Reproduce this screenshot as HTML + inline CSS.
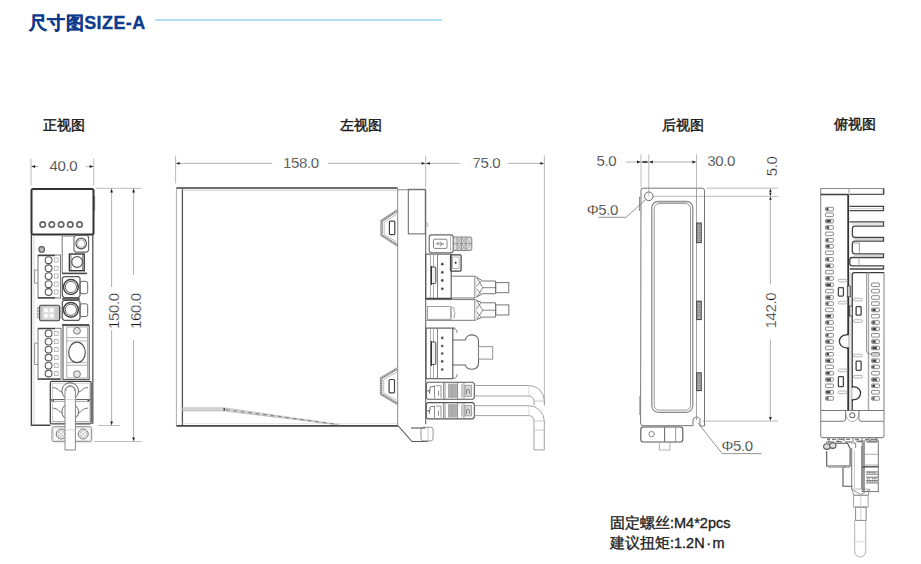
<!DOCTYPE html>
<html><head><meta charset="utf-8">
<style>
html,body{margin:0;padding:0;background:#fff;width:921px;height:564px;overflow:hidden}
svg{position:absolute;left:0;top:0}
text{font-family:"Liberation Sans",sans-serif}
.t{font-size:13.5px;fill:#1a1a1a;stroke:#1a1a1a;stroke-width:0.45}
.n{font-size:15px;fill:#1a1a1a;letter-spacing:-0.35px;stroke:#fff;stroke-width:0.3px}
.dl{stroke:#a8a8a8;stroke-width:0.9;fill:none}
.ex{stroke:#b4b4b4;stroke-width:0.9;fill:none}
.ah{fill:#222;stroke:none}
.o{stroke:#3a3a3a;stroke-width:1.6;fill:none}
.m{stroke:#5a5a5a;stroke-width:1.1;fill:none}
.l{stroke:#8a8a8a;stroke-width:0.9;fill:none}
.ll{stroke:#b0b0b0;stroke-width:0.9;fill:none}
</style></head><body>
<svg width="921" height="564" viewBox="0 0 921 564">
<!-- title -->
<text x="29" y="29" style="font-size:18px;font-weight:bold;fill:#0c3a8c;letter-spacing:0.4px;stroke:#0c3a8c;stroke-width:0.3">尺寸图SIZE-A</text>
<line x1="155" y1="20" x2="442" y2="20" stroke="#b4def4" stroke-width="2"/>

<!-- view labels -->
<text class="t" x="43" y="129.5">正视图</text>
<text class="t" x="340" y="129.7">左视图</text>
<text class="t" x="662" y="130.3">后视图</text>
<text class="t" x="833.5" y="129.3">俯视图</text>

<!-- notes -->
<text x="610" y="527.5" style="font-size:14.5px;fill:#222;stroke:#222;stroke-width:0.35">固定螺丝:M4*2pcs</text>
<text x="610" y="548" style="font-size:14.5px;fill:#222;stroke:#222;stroke-width:0.35">建议扭矩:1.2N<tspan dx="1.5">·</tspan><tspan dx="1.5">m</tspan></text>

<!-- ================= FRONT VIEW ================= -->
<g id="front">
<!-- dims 40.0 -->
<line class="ex" x1="31" y1="158.5" x2="31" y2="185.5"/>
<line class="ex" x1="93.8" y1="158.5" x2="93.8" y2="185.5"/>
<line class="dl" x1="31" y1="166.5" x2="38.5" y2="166.5"/>
<line class="dl" x1="86" y1="166.5" x2="93.8" y2="166.5"/>
<path class="ah" d="M31.5 166.5 l3.6 -1.4 v2.8z"/>
<path class="ah" d="M93.3 166.5 l-3.6 -1.4 v2.8z"/>
<text class="n" x="49.5" y="171">40.0</text>
<!-- 150 / 160 -->
<line class="ex" x1="96" y1="188.3" x2="141.6" y2="188.3"/>
<line class="ex" x1="98" y1="425.5" x2="119.8" y2="425.5"/>
<line class="ex" x1="94.3" y1="441.5" x2="141.6" y2="441.5"/>
<line class="dl" x1="111.6" y1="188.3" x2="111.6" y2="287"/>
<line class="dl" x1="111.6" y1="330" x2="111.6" y2="425.5"/>
<line class="dl" x1="133.6" y1="188.3" x2="133.6" y2="275"/>
<line class="dl" x1="133.6" y1="340" x2="133.6" y2="441.5"/>
<path class="ah" d="M111.6 188.8 l-1.4 3.6 h2.8z"/>
<path class="ah" d="M133.6 188.8 l-1.4 3.6 h2.8z"/>
<path class="ah" d="M111.6 425 l-1.4 -3.6 h2.8z"/>
<path class="ah" d="M133.6 441 l-1.4 -3.6 h2.8z"/>
<text class="n" transform="translate(119,329) rotate(-90)">150.0</text>
<text class="n" transform="translate(141,329) rotate(-90)">160.0</text>

<!-- upper box -->
<rect x="31.5" y="189" width="62" height="45.5" rx="1.5" fill="none" stroke="#333" stroke-width="2"/>
<line x1="94.6" y1="196" x2="94.6" y2="211" stroke="#666" stroke-width="1"/>
<g fill="none" stroke="#666" stroke-width="1.7">
<circle cx="42.7" cy="224.5" r="2.7"/><circle cx="51.8" cy="224.5" r="2.7"/><circle cx="61.1" cy="224.5" r="2.7"/><circle cx="70.3" cy="224.5" r="2.7"/><circle cx="79.5" cy="224.5" r="2.7"/>
</g>
<!-- lower body outline -->
<path d="M31.4 234.5 V425.3 H50.5" fill="none" stroke="#444" stroke-width="1.4"/>
<line x1="92.8" y1="234.5" x2="92.8" y2="424" stroke="#555" stroke-width="1.3"/>
<line x1="34" y1="236" x2="34" y2="424" stroke="#ccc" stroke-width="0.7"/>
<!-- small circle -->
<circle cx="41.7" cy="249.4" r="2.8" fill="#bbb" stroke="#555" stroke-width="1.1"/>
<!-- 5-pin connector -->
<rect x="38" y="255" width="22.5" height="43" fill="none" stroke="#777" stroke-width="1"/>
<line x1="38" y1="255.5" x2="55" y2="255.5" stroke="#444" stroke-width="1.4"/>
<line x1="38" y1="297.8" x2="55" y2="297.8" stroke="#444" stroke-width="1.4"/>
<path d="M37.8 270 h-3.2 v13.2 h3.2" fill="none" stroke="#888" stroke-width="0.9"/>
<g fill="none" stroke="#555" stroke-width="1.1">
<circle cx="48.6" cy="260.2" r="3.4"/><circle cx="48.6" cy="268.3" r="3.4"/><circle cx="48.6" cy="276.1" r="3.4"/><circle cx="48.6" cy="284.2" r="3.4"/><circle cx="48.6" cy="292" r="3.4"/>
</g>
<g fill="none" stroke="#aaa" stroke-width="0.8">
<rect x="54.3" y="258" width="3.8" height="4"/><rect x="54.3" y="266.2" width="3.8" height="4"/><rect x="54.3" y="274" width="3.8" height="4"/><rect x="54.3" y="282.1" width="3.8" height="4"/><rect x="54.3" y="290" width="3.8" height="4"/>
</g>
<!-- right upper connectors -->
<line x1="62.2" y1="236" x2="62.2" y2="273" stroke="#777" stroke-width="1"/>
<line x1="62.2" y1="236.3" x2="74" y2="236.3" stroke="#999" stroke-width="0.8"/>
<path d="M75.5 235.4 H87 L88.6 237 V250.5 L87 252.1 H75.5 L74 250.5 V237Z" fill="none" stroke="#666" stroke-width="1.1"/>
<circle cx="81.2" cy="243.5" r="5.3" fill="none" stroke="#555" stroke-width="1.2"/>
<circle cx="81.2" cy="243.5" r="3.8" fill="none" stroke="#999" stroke-width="0.8"/>
<rect x="69.4" y="254" width="14.8" height="16.7" fill="none" stroke="#333" stroke-width="1.4"/>
<line x1="71" y1="255" x2="71" y2="270" stroke="#888" stroke-width="1"/>
<line x1="82.6" y1="255" x2="82.6" y2="270" stroke="#888" stroke-width="1"/>
<circle cx="77.1" cy="262" r="5.4" fill="none" stroke="#555" stroke-width="1.2"/>
<line x1="62" y1="273.4" x2="87" y2="273.4" stroke="#444" stroke-width="1.6"/>
<!-- big round connectors -->
<path d="M64 276.6 H78.5 L80 278.2 V295.5 L78.5 297.6 H64 L62.3 295.5 V278.2Z" fill="none" stroke="#555" stroke-width="1.2"/>
<circle cx="70.9" cy="287" r="7.4" fill="none" stroke="#444" stroke-width="1.5"/>
<circle cx="70.9" cy="287" r="5.6" fill="none" stroke="#666" stroke-width="1"/>
<rect x="80" y="281.3" width="7.7" height="12.4" rx="2" fill="none" stroke="#666" stroke-width="1"/>
<line x1="62" y1="299" x2="80" y2="299" stroke="#333" stroke-width="1.4"/>
<path d="M64 300.3 H78.5 L80 302 V318.5 L78.5 320.3 H64 L62.3 318.5 V302Z" fill="none" stroke="#555" stroke-width="1.2"/>
<circle cx="70.9" cy="309.8" r="7.4" fill="none" stroke="#444" stroke-width="1.5"/>
<circle cx="70.9" cy="309.8" r="5.6" fill="none" stroke="#666" stroke-width="1"/>
<rect x="80" y="303.8" width="7.7" height="12.8" rx="2" fill="none" stroke="#666" stroke-width="1"/>
<!-- small 4-square connector -->
<rect x="36.8" y="307" width="24.6" height="11.2" fill="#aaa"/>
<g fill="#ddd"><rect x="37.3" y="308.6" width="1.8" height="1.6"/><rect x="37.3" y="311.8" width="1.8" height="1.6"/><rect x="37.3" y="315" width="1.8" height="1.6"/><rect x="59.2" y="308.6" width="1.8" height="1.6"/><rect x="59.2" y="311.8" width="1.8" height="1.6"/><rect x="59.2" y="315" width="1.8" height="1.6"/></g>
<rect x="39.6" y="305.3" width="20" height="15.5" rx="1.5" fill="#c8c8c8" stroke="#444" stroke-width="1.1"/>
<rect x="42.8" y="307.2" width="12" height="11.8" fill="#dedede"/>
<g fill="#fff"><rect x="44.3" y="308.4" width="3.5" height="3.6"/><rect x="50.1" y="308.4" width="3.2" height="3.6"/><rect x="44.3" y="314.2" width="3.5" height="3.2"/><rect x="50.1" y="314.2" width="3.2" height="3.2"/></g>
<g fill="#ccc"><rect x="41" y="308.6" width="1.5" height="1.6"/><rect x="41" y="315" width="1.5" height="1.6"/><rect x="56" y="308.6" width="1.5" height="1.6"/><rect x="56" y="315" width="1.5" height="1.6"/></g>
<line x1="62" y1="324.9" x2="89" y2="324.9" stroke="#444" stroke-width="1.6"/>
<!-- 6-pin connector -->
<rect x="38" y="328.3" width="23" height="51" fill="none" stroke="#777" stroke-width="1"/>
<line x1="38" y1="328.6" x2="55" y2="328.6" stroke="#444" stroke-width="1.4"/>
<line x1="38" y1="379" x2="60" y2="379" stroke="#444" stroke-width="1.4"/>
<path d="M37.8 343.2 h-3.2 v21.3 h3.2" fill="none" stroke="#888" stroke-width="0.9"/>
<g fill="none" stroke="#555" stroke-width="1.1">
<circle cx="48.6" cy="333.4" r="3.4"/><circle cx="48.6" cy="341.6" r="3.4"/><circle cx="48.6" cy="349.6" r="3.4"/><circle cx="48.6" cy="357.5" r="3.4"/><circle cx="48.6" cy="365.6" r="3.4"/><circle cx="48.6" cy="373.5" r="3.4"/>
</g>
<g fill="none" stroke="#aaa" stroke-width="0.8">
<rect x="54.3" y="331.4" width="3.8" height="4"/><rect x="54.3" y="339.6" width="3.8" height="4"/><rect x="54.3" y="347.6" width="3.8" height="4"/><rect x="54.3" y="355.5" width="3.8" height="4"/><rect x="54.3" y="363.6" width="3.8" height="4"/><rect x="54.3" y="371.5" width="3.8" height="4"/>
</g>
<!-- right block with ellipse -->
<rect x="63" y="325.5" width="26.2" height="54" fill="none" stroke="#555" stroke-width="1.1"/>
<rect x="66.8" y="327" width="20.6" height="51" fill="none" stroke="#999" stroke-width="0.8"/>
<line x1="66.8" y1="337.6" x2="87.4" y2="337.6" stroke="#999" stroke-width="0.8"/><line x1="66" y1="341" x2="88" y2="341" stroke="#aaa" stroke-width="0.8"/>
<line x1="66.8" y1="365.2" x2="87.4" y2="365.2" stroke="#999" stroke-width="0.8"/><line x1="66" y1="362.5" x2="88" y2="362.5" stroke="#aaa" stroke-width="0.8"/>
<ellipse cx="77" cy="352.4" rx="8.3" ry="10.2" fill="none" stroke="#555" stroke-width="1.2"/>
<circle cx="77" cy="330.8" r="3.4" fill="#e6e6e6" stroke="#777" stroke-width="1"/>
<circle cx="77" cy="374.2" r="3.4" fill="#e6e6e6" stroke="#777" stroke-width="1"/>
<!-- bottom connector block -->
<rect x="50.3" y="381.4" width="40.8" height="42.5" rx="1.5" fill="none" stroke="#444" stroke-width="1.3"/>
<line x1="51.5" y1="421.5" x2="90" y2="421.5" stroke="#999" stroke-width="0.8"/>
<line x1="50.3" y1="399.6" x2="91" y2="399.6" stroke="#555" stroke-width="1"/>
<line x1="50.3" y1="401.6" x2="91" y2="401.6" stroke="#999" stroke-width="0.8"/>
<rect x="51.5" y="399.8" width="2.5" height="1.6" fill="#444"/><rect x="87.5" y="399.8" width="2.5" height="1.6" fill="#444"/>
<path d="M52.5 387.5 q4 0 6 2.5 q1.5 2 3.5 2 M78.5 392 q2 0 3.5 -2 q2 -2.5 6 -2.5 M52.5 408 q4 0 6 2.5 q1.5 2 3.5 2 M78.5 412.5 q2 0 3.5 -2 q2 -2.5 6 -2.5" fill="none" stroke="#666" stroke-width="0.9"/>
<rect x="52.5" y="383.2" width="36.8" height="38.8" fill="none" stroke="#bbb" stroke-width="0.7"/>
<circle cx="70.2" cy="391" r="8.3" fill="none" stroke="#666" stroke-width="1"/>
<circle cx="70.2" cy="411.8" r="8.3" fill="none" stroke="#666" stroke-width="1"/>
<!-- bottom mount -->
<rect x="52" y="426.7" width="39.7" height="15" rx="2" fill="none" stroke="#888" stroke-width="1"/>
<rect x="53.5" y="428" width="36.7" height="12.4" rx="1.5" fill="none" stroke="#ccc" stroke-width="0.7"/>
<circle cx="61.2" cy="434" r="5" fill="none" stroke="#777" stroke-width="1"/>
<circle cx="61.2" cy="434" r="3.4" fill="none" stroke="#aaa" stroke-width="0.8"/>
<circle cx="83.2" cy="434" r="5" fill="none" stroke="#777" stroke-width="1"/>
<circle cx="83.2" cy="434" r="3.4" fill="none" stroke="#aaa" stroke-width="0.8"/>
<path d="M81 432 l4.4 4.4 M85.4 432 l-4.4 4.4 M59 432 l4.4 4.4 M63.4 432 l-4.4 4.4" stroke="#aaa" stroke-width="0.7"/>
<!-- cable -->
<path d="M65 450 V391 a5.2 5.2 0 0 1 10.4 0 V450 Z" fill="#fff" stroke="#888" stroke-width="1"/>
<path d="M65.5 391 a4.7 4.7 0 0 1 9.4 0" fill="none" stroke="#999" stroke-width="1.5"/>
<line x1="65" y1="399.5" x2="75.4" y2="399.5" stroke="#ccc" stroke-width="0.7"/>
<line x1="65" y1="430" x2="75.4" y2="430" stroke="#ccc" stroke-width="0.7"/>
</g>

<!-- ================= LEFT VIEW ================= -->
<g id="left">
<!-- dims -->
<line class="ex" x1="175.6" y1="155.6" x2="175.6" y2="183.3"/>
<line class="ex" x1="425.7" y1="155.6" x2="425.7" y2="187.6"/>
<line class="ex" x1="544.4" y1="155.4" x2="544.4" y2="405"/>
<line class="dl" x1="175.6" y1="163.4" x2="272" y2="163.4"/>
<line class="dl" x1="328" y1="163.4" x2="459.7" y2="163.4"/>
<line class="dl" x1="508.1" y1="163.4" x2="544.4" y2="163.4"/>
<path class="ah" d="M176.1 163.4 l3.6 -1.4 v2.8z"/>
<path class="ah" d="M425.2 163.4 l-3.6 -1.4 v2.8z"/>
<path class="ah" d="M426.2 163.4 l3.6 -1.4 v2.8z"/>
<path class="ah" d="M543.9 163.4 l-3.6 -1.4 v2.8z"/>
<text class="n" x="283" y="168">158.0</text>
<text class="n" x="472.5" y="168">75.0</text>

<!-- main body -->
<line x1="176.4" y1="188.3" x2="176.4" y2="425.6" stroke="#aaa" stroke-width="1"/>
<line x1="182.4" y1="189" x2="182.4" y2="425.6" stroke="#505050" stroke-width="1.3"/>
<line x1="176.4" y1="188" x2="397.7" y2="188" stroke="#707070" stroke-width="2"/>
<line x1="182.4" y1="190.2" x2="397.7" y2="190.2" stroke="#c8c8c8" stroke-width="1"/>
<line x1="176.4" y1="425.8" x2="398.3" y2="425.8" stroke="#444" stroke-width="1.8"/>
<line x1="182.4" y1="423.6" x2="398.3" y2="423.6" stroke="#ddd" stroke-width="0.8"/>
<!-- bottom band -->
<path d="M182.6 407.7 H224.2 L339 424.4 V425 L224.2 411 H182.6z" fill="#d4d4d4" stroke="#aaa" stroke-width="0.5"/>
<line x1="224.2" y1="408" x2="224.2" y2="411" stroke="#333" stroke-width="1.2"/>
<line x1="226" y1="409.6" x2="335" y2="424" stroke="#8a8a8a" stroke-width="1.3" stroke-dasharray="3.5 4"/>
<!-- right section -->
<line x1="397.7" y1="188" x2="397.7" y2="426" stroke="#888" stroke-width="1"/>
<line x1="397.7" y1="189.7" x2="425.7" y2="189.7" stroke="#aaa" stroke-width="1.4"/>
<rect x="408.3" y="189.3" width="17" height="44.6" fill="none" stroke="#666" stroke-width="1"/>
<line x1="425.7" y1="189.5" x2="425.7" y2="424.2" stroke="#666" stroke-width="1.1"/>
<path d="M425.7 222.6 a2.1 2.1 0 0 1 0 4.2" fill="none" stroke="#999" stroke-width="0.8"/>
<!-- clips -->
<path d="M397.7 210.2 L381.6 221 V235.2 L397.7 245.6" fill="none" stroke="#8c8c8c" stroke-width="2.4"/>
<path d="M397.7 210.2 L381.6 221 V235.2 L397.7 245.6" fill="none" stroke="#f4f4f4" stroke-width="0.8" stroke-dasharray="1 1.3"/>
<path d="M397.7 213.5 L384.2 222.2 V234.2 L397.7 242.5" fill="none" stroke="#b0b0b0" stroke-width="0.8"/>
<rect x="389.4" y="221.1" width="5.4" height="13.5" rx="1" fill="none" stroke="#444" stroke-width="1.2"/>
<path d="M397.9 368.3 L381.1 378.3 V394 L397.9 404" fill="none" stroke="#8c8c8c" stroke-width="2.4"/>
<path d="M397.9 368.3 L381.1 378.3 V394 L397.9 404" fill="none" stroke="#f4f4f4" stroke-width="0.8" stroke-dasharray="1 1.3"/>
<path d="M397.9 371.5 L383.7 379.5 V393 L397.9 401" fill="none" stroke="#b0b0b0" stroke-width="0.8"/>
<rect x="389.1" y="379.5" width="5.4" height="13.3" rx="1" fill="none" stroke="#444" stroke-width="1.2"/>
<!-- foot -->
<path d="M398.3 426 L412 441.5 H428.1" fill="none" stroke="#555" stroke-width="1.1"/>
<rect x="421" y="427.2" width="12.1" height="13.7" rx="2.5" fill="none" stroke="#888" stroke-width="0.9"/>
<line x1="411" y1="428" x2="425.5" y2="428" stroke="#666" stroke-width="1.2"/>
<line x1="428.1" y1="427.5" x2="428.1" y2="440.9" stroke="#bbb" stroke-width="0.8"/>

<!-- USB plug -->
<rect x="429.2" y="234.9" width="24.1" height="17.8" rx="2.5" fill="none" stroke="#666" stroke-width="1.1"/><line x1="450.5" y1="236" x2="450.5" y2="251.5" stroke="#aaa" stroke-width="0.8"/>
<rect x="433.5" y="239.2" width="13.5" height="9.2" rx="1" fill="none" stroke="#777" stroke-width="0.9"/>
<path d="M436 244 h8 M440 241.5 l2 2.5 l-2 2.5 M437 244 l1.5 -2" fill="none" stroke="#666" stroke-width="0.8"/>
<path d="M453.3 237 H470 Q471.8 237 471.8 239 V248.5 Q471.8 250.5 470 250.5 H453.3Z" fill="#dedede" stroke="#777" stroke-width="0.9"/>
<path d="M457 237 v13.5 M461.5 237 v13.5 M466 237 v13.5 M453.3 243.7 h18.5" fill="none" stroke="#888" stroke-width="0.8"/>
<path d="M457 237 l4.5 6.7 l-4.5 6.8 M461.5 237 l-4.5 6.7 l4.5 6.8 M461.5 237 l4.5 6.7 l-4.5 6.8 M466 237 l-4.5 6.7 l4.5 6.8 M466 237 l4.5 6.7 l-4.5 6.8" fill="none" stroke="#999" stroke-width="0.7"/>
<!-- upper 4-dot connector -->
<rect x="425.7" y="254.1" width="25.5" height="44.7" fill="none" stroke="#555" stroke-width="1.1"/>
<line x1="430.5" y1="254.1" x2="430.5" y2="298.8" stroke="#999" stroke-width="0.8"/>
<line x1="433.5" y1="254.1" x2="433.5" y2="298.8" stroke="#999" stroke-width="0.8"/>
<line x1="437.5" y1="254.1" x2="437.5" y2="298.8" stroke="#777" stroke-width="0.9"/>
<rect x="431.2" y="267" width="4.6" height="16.5" rx="1" fill="#f2f2f2" stroke="#444" stroke-width="1"/><line x1="431.4" y1="266" x2="431.4" y2="285" stroke="#333" stroke-width="1.2"/>
<g fill="#555"><circle cx="442.3" cy="264.2" r="1.4"/><circle cx="442.3" cy="272.4" r="1.4"/><circle cx="442.3" cy="280.5" r="1.4"/><circle cx="442.3" cy="288.8" r="1.4"/></g>
<rect x="450.5" y="254.8" width="10.6" height="16.3" rx="1" fill="none" stroke="#444" stroke-width="1.2"/>
<rect x="452.5" y="257" width="6.6" height="11.5" fill="none" stroke="#999" stroke-width="0.7"/>
<circle cx="455.7" cy="262.7" r="1" fill="#222"/>
<!-- glands -->
<g fill="none" stroke="#777" stroke-width="1">
<path d="M451.4 276.2 H474.8 L482.8 281 H495.5 V293.7 H482.8 L474.8 298 H451.4"/>
<path d="M426.2 299.6 H474.8 L482.8 302.8 H495.5 V317.1 H482.8 L474.8 320.3 H426.2"/>
<rect x="495.8" y="282.6" width="13" height="10.1"/>
<rect x="495.8" y="304.9" width="13" height="10.1"/>
</g>
<g fill="none" stroke="#666" stroke-width="0.8">
<path d="M474.8 276.2 V298 M476.5 277 L482.8 287.7 L476.5 297.5 M481 281 L475.5 287.7 L481 293.7 M482.8 287.7 H495.5"/>
<path d="M474.8 299.6 V320.3 M476.5 300.5 L482.8 310.2 L476.5 319.5 M481 302.8 L475.5 310.2 L481 317.1 M482.8 310.2 H495.5"/>
</g>
<rect x="475" y="277" width="1.6" height="20.5" fill="#ddd"/>
<rect x="475" y="300.5" width="1.6" height="19.5" fill="#ddd"/>
<line x1="426" y1="298.5" x2="451.4" y2="298.5" stroke="#444" stroke-width="1.5"/>
<rect x="427.5" y="306.5" width="23.4" height="12.8" fill="none" stroke="#999" stroke-width="0.9"/>
<path d="M451 318.2 V309 a1.6 1.6 0 0 1 3.2 0 v3 a1.6 1.6 0 0 1 0 3 v3.2" fill="none" stroke="#888" stroke-width="0.8"/>
<!-- lower 5-dot connector -->
<rect x="426" y="328.1" width="26.8" height="50.6" fill="none" stroke="#555" stroke-width="1.1"/>
<line x1="430.5" y1="328.1" x2="430.5" y2="378.7" stroke="#999" stroke-width="0.8"/>
<line x1="433.5" y1="328.1" x2="433.5" y2="378.7" stroke="#999" stroke-width="0.8"/>
<line x1="437.5" y1="328.1" x2="437.5" y2="378.7" stroke="#777" stroke-width="0.9"/>
<rect x="431.2" y="342" width="4.6" height="22.5" rx="1" fill="#f2f2f2" stroke="#444" stroke-width="1"/><line x1="431.4" y1="341" x2="431.4" y2="366" stroke="#333" stroke-width="1.2"/>
<line x1="452.8" y1="328.1" x2="455" y2="328.1" stroke="#555" stroke-width="1"/>
<g fill="#555"><circle cx="442.2" cy="337.9" r="1.3"/><circle cx="442.2" cy="346" r="1.3"/><circle cx="442.2" cy="353.5" r="1.3"/><circle cx="442.2" cy="361.4" r="1.3"/><circle cx="442.2" cy="369.5" r="1.3"/></g>
<path d="M452.8 329 a3 3 0 0 1 4 4 M452.8 378 a3 3 0 0 0 4 -4" fill="none" stroke="#777" stroke-width="0.9"/>
<!-- big plug -->
<path d="M452.8 340 H465.5 C466 333 478.5 333 478.5 341 V363 C478.5 371 466 371 465.5 365 H452.8" fill="none" stroke="#666" stroke-width="1.1"/>
<rect x="478.5" y="346.7" width="14.2" height="12.4" fill="none" stroke="#888" stroke-width="0.9"/>
<!-- terminal blocks -->
<path d="M427.8 382.2 H472.8 L474.3 383.7 V397.8 L472.8 399.3 H427.8 L426.3 397.8 V383.7 Z" fill="none" stroke="#555" stroke-width="1.1"/>
<path d="M427.5 390.8 h2.5 v-3 a1.2 1.2 0 0 1 1.2 -1.2 h3.5 M427.5 390.8 h2 v3" fill="none" stroke="#666" stroke-width="0.9"/>
<path d="M434.5 385.2 V398.3 M436 385.7 h5 v12.1 M438.5 390.8 v5 M443.5 382.7 V398.8 M445 382.7 V398.8" fill="none" stroke="#777" stroke-width="0.8"/>
<rect x="448" y="383.7" width="8.5" height="14.1" fill="#c8c8c8"/>
<path d="M448.8 383.7 V397.8 M450.1 383.7 V397.8 M451.4 383.7 V397.8 M452.7 383.7 V397.8 M454.0 383.7 V397.8 M455.3 383.7 V397.8 M456.6 383.7 V397.8" stroke="#8a8a8a" stroke-width="0.6"/>
<path d="M457.5 382.7 V398.8 M462 384.2 V397.3 M464 382.7 V398.8 M468 385.2 V396.3" stroke="#777" stroke-width="0.8"/>
<rect x="465" y="385.2" width="6.5" height="11.1" fill="#d8d8d8" stroke="#888" stroke-width="0.7"/>
<path d="M466.5 393.8 v-3 a1.5 1.5 0 0 1 3 0 v3" fill="none" stroke="#666" stroke-width="0.8"/>
<path d="M427.8 402.6 H472.8 L474.3 404.1 V417.4 L472.8 418.9 H427.8 L426.3 417.4 V404.1 Z" fill="none" stroke="#555" stroke-width="1.1"/>
<path d="M427.5 410.8 h2.5 v-3 a1.2 1.2 0 0 1 1.2 -1.2 h3.5 M427.5 410.8 h2 v3" fill="none" stroke="#666" stroke-width="0.9"/>
<path d="M434.5 405.6 V417.9 M436 406.1 h5 v11.3 M438.5 410.8 v5 M443.5 403.1 V418.4 M445 403.1 V418.4" fill="none" stroke="#777" stroke-width="0.8"/>
<rect x="448" y="404.1" width="8.5" height="13.3" fill="#c8c8c8"/>
<path d="M448.8 404.1 V417.4 M450.1 404.1 V417.4 M451.4 404.1 V417.4 M452.7 404.1 V417.4 M454.0 404.1 V417.4 M455.3 404.1 V417.4 M456.6 404.1 V417.4" stroke="#8a8a8a" stroke-width="0.6"/>
<path d="M457.5 403.1 V418.4 M462 404.6 V416.9 M464 403.1 V418.4 M468 405.6 V415.9" stroke="#777" stroke-width="0.8"/>
<rect x="465" y="405.6" width="6.5" height="10.3" fill="#d8d8d8" stroke="#888" stroke-width="0.7"/>
<path d="M466.5 413.8 v-3 a1.5 1.5 0 0 1 3 0 v3" fill="none" stroke="#666" stroke-width="0.8"/>
<!-- cables -->
<path d="M474.3 385.5 H528.9 A15.5 15.5 0 0 1 544.4 401 V405.4 M474.3 396 H528.9 A5 5 0 0 1 534 401 V405.4" fill="none" stroke="#999" stroke-width="0.9"/>
<path d="M474.3 405.7 H528.9 A15.5 15.5 0 0 1 544.3 421.2 V449.9 H534 V421 A5 5 0 0 0 528.9 415.6 H474.3" fill="none" stroke="#999" stroke-width="0.9"/>
<path d="M534 421 H544.3 M534 430.1 H544.3 M534 401 H544.3" fill="none" stroke="#bbb" stroke-width="0.8"/>
<path d="M528.9 385.5 V396 M528.9 405.7 V415.6" fill="none" stroke="#ccc" stroke-width="0.7"/>
</g>

<!-- ================= REAR VIEW ================= -->
<g id="rear">
<!-- dims -->
<line class="ex" x1="641" y1="154.2" x2="641" y2="187.5"/>
<line class="ex" x1="648.8" y1="154.2" x2="648.8" y2="192"/>
<line class="ex" x1="696.5" y1="154.2" x2="696.5" y2="188"/>
<line class="dl" x1="626.1" y1="162" x2="696.5" y2="162"/>
<path class="ah" d="M640.6 162 l-3.6 -1.4 v2.8z"/>
<path class="ah" d="M641.4 162 l3.2 -1.3 v2.6z"/>
<path class="ah" d="M648.4 162 l-3.2 -1.3 v2.6z"/>
<path class="ah" d="M649.2 162 l3.6 -1.4 v2.8z"/>
<path class="ah" d="M696 162 l-3.6 -1.4 v2.8z"/>
<text class="n" x="596.5" y="166.2">5.0</text>
<text class="n" x="707.3" y="166.2">30.0</text>
<text class="n" transform="translate(776.6,176.2) rotate(-90)">5.0</text>
<line class="ex" x1="706.7" y1="188.2" x2="778" y2="188.2"/>
<line class="ex" x1="653" y1="196.3" x2="778" y2="196.3"/>
<line class="ex" x1="702.7" y1="421.1" x2="778" y2="421.1"/>
<line class="dl" x1="770.4" y1="188.2" x2="770.4" y2="284.2"/>
<line class="dl" x1="770.4" y1="339.5" x2="770.4" y2="421.1"/>
<path class="ah" d="M770.4 188.7 l-1.3 3 h2.6z"/>
<path class="ah" d="M770.4 195.8 l-1.3 -3 h2.6z"/>
<path class="ah" d="M770.4 196.8 l-1.3 3 h2.6z"/>
<path class="ah" d="M770.4 420.6 l-1.4 -3.6 h2.8z"/>
<text class="n" transform="translate(776.3,328.5) rotate(-90)">142.0</text>
<!-- leaders -->
<path d="M645.6 199.5 L626.1 217.3 H598.4" fill="none" stroke="#888" stroke-width="0.9"/>
<text class="n" x="586.7" y="215.4">Φ5.0</text>
<path d="M698 423 L722.2 453.6 H761.5" fill="none" stroke="#888" stroke-width="0.9"/>
<text class="n" x="721.4" y="451">Φ5.0</text>
<!-- body -->
<path d="M641 190 Q641 188.2 643 188.2 H702.5 Q704.5 188.2 704.5 190.5 V426 H700 Q699.7 423.5 700 421 A3.5 3.5 0 0 0 693 420 V425.7 H643 Q640.6 425.7 640.6 423 Z" fill="none" stroke="#777" stroke-width="1"/>
<line x1="696.5" y1="188" x2="696.5" y2="420" stroke="#999" stroke-width="0.9"/>
<line x1="639.6" y1="196.7" x2="639.6" y2="211" stroke="#777" stroke-width="0.9"/>
<line x1="639.6" y1="396" x2="639.6" y2="415" stroke="#999" stroke-width="0.8"/>
<circle cx="648.8" cy="196.3" r="4.3" fill="#fff" stroke="#666" stroke-width="1"/>
<line x1="648.8" y1="196.3" x2="648.8" y2="192" stroke="#999" stroke-width="0.6"/>
<!-- inner rounded rect -->
<rect x="651.8" y="201.3" width="41" height="211" rx="6.5" fill="none" stroke="#888" stroke-width="1.2"/>
<rect x="654.2" y="203.6" width="36.3" height="206.5" rx="4.8" fill="none" stroke="#999" stroke-width="1"/>
<line x1="658" y1="202.4" x2="687" y2="202.4" stroke="#bbb" stroke-width="1.6"/>
<!-- tabs -->
<g fill="#c4c4c4" stroke="#333" stroke-width="1">
<rect x="696.8" y="223" width="4.4" height="19.6"/>
<rect x="696.8" y="301.2" width="4.4" height="18.4"/>
<rect x="696.8" y="372.8" width="4.4" height="17.8"/>
</g>
<path d="M697.6 224.5 h2.8 M697.6 226.1 h2.8 M697.6 227.7 h2.8 M697.6 229.3 h2.8 M697.6 230.9 h2.8 M697.6 232.5 h2.8 M697.6 234.1 h2.8 M697.6 235.7 h2.8 M697.6 237.3 h2.8 M697.6 238.9 h2.8 M697.6 240.5 h2.8" stroke="#666" stroke-width="0.6"/>
<path d="M697.6 302.7 h2.8 M697.6 304.3 h2.8 M697.6 305.9 h2.8 M697.6 307.5 h2.8 M697.6 309.1 h2.8 M697.6 310.7 h2.8 M697.6 312.3 h2.8 M697.6 313.9 h2.8 M697.6 315.5 h2.8 M697.6 317.1 h2.8" stroke="#666" stroke-width="0.6"/>
<path d="M697.6 374.3 h2.8 M697.6 375.9 h2.8 M697.6 377.5 h2.8 M697.6 379.1 h2.8 M697.6 380.7 h2.8 M697.6 382.3 h2.8 M697.6 383.9 h2.8 M697.6 385.5 h2.8 M697.6 387.1 h2.8 M697.6 388.7 h2.8" stroke="#666" stroke-width="0.6"/>
<!-- bottom mount -->
<rect x="640.8" y="427" width="42" height="15" rx="2.5" fill="none" stroke="#555" stroke-width="1.1"/>
<line x1="664.6" y1="427" x2="664.6" y2="442" stroke="#666" stroke-width="1"/>
<line x1="675.7" y1="427" x2="675.7" y2="442" stroke="#888" stroke-width="0.9"/>
<circle cx="651.6" cy="434.1" r="2.7" fill="none" stroke="#777" stroke-width="0.9"/>
<rect x="659.3" y="442" width="10.6" height="8" fill="none" stroke="#aaa" stroke-width="0.9"/>
</g>

<!-- ================= TOP VIEW ================= -->
<g id="top">
<!-- outer -->
<path d="M884 194.3 V188.5 H820.7 V435.5 Q820.9 437.6 823 437.6 H882 Q884 437.6 884 435.5 V272.6" fill="none" stroke="#8a8a8a" stroke-width="1.1"/>
<line x1="883.6" y1="188.8" x2="883.6" y2="194" stroke="#555" stroke-width="1.2"/>
<line x1="820.7" y1="194.5" x2="848" y2="194.5" stroke="#444" stroke-width="1.6"/>
<line x1="849.5" y1="194.3" x2="884" y2="194.3" stroke="#555" stroke-width="1.2"/>
<line x1="848.9" y1="188.5" x2="848.9" y2="194.3" stroke="#999" stroke-width="0.9"/>
<line x1="882.1" y1="188.5" x2="882.1" y2="194.3" stroke="#bbb" stroke-width="0.8"/>
<line x1="848.2" y1="194.3" x2="848.2" y2="410.5" stroke="#333" stroke-width="1.8"/>
<line x1="849.9" y1="272" x2="849.9" y2="410.5" stroke="#bbb" stroke-width="0.8"/>
<!-- fins -->
<g fill="none" stroke="#444" stroke-width="1.3">
<path d="M849.5 206.3 H883.5 V210.7 H849.5"/>
<path d="M849.5 221.8 H883.5 V226.2 H855 Q852.4 226.2 852.4 229 V235 Q852.4 237.5 855 237.5 H883.5 V241.1 H855 Q852.3 241.1 852.3 244 V251 Q852.3 253.9 855 253.9 H883.5 V257.5 H852 Q849.8 257.5 849.8 260 V263.5 Q849.8 265.9 852 265.9 H883.5 V269 H849.8"/>
</g>
<path d="M852.6 243 h6.8 v10.5" fill="none" stroke="#888" stroke-width="0.8"/>
<line x1="859" y1="257.5" x2="859" y2="265.9" stroke="#999" stroke-width="0.8"/>
<g stroke="#bbb" stroke-width="0.7"><line x1="850" y1="208.5" x2="883" y2="208.5"/><line x1="852" y1="224" x2="883" y2="224"/><line x1="854" y1="239.3" x2="883" y2="239.3"/><line x1="854" y1="255.7" x2="883" y2="255.7"/></g>
<!-- right block -->
<path d="M852.2 410.5 V275 Q852.2 272.6 854.5 272.6 H884" fill="none" stroke="#3a3a3a" stroke-width="1.3"/>
<line x1="866.6" y1="272.6" x2="866.6" y2="351" stroke="#888" stroke-width="0.9"/>
<line x1="868.5" y1="272.6" x2="868.5" y2="410" stroke="#aaa" stroke-width="1.4"/>
<path d="M866.6 351 Q867 354 870 354 H880" fill="none" stroke="#888" stroke-width="0.9"/>
<line x1="884.6" y1="340" x2="884.6" y2="420" stroke="#bbb" stroke-width="0.8"/>
<!-- middle details -->
<g fill="none" stroke="#444" stroke-width="1.3">
<rect x="838.4" y="287.6" width="5" height="8.5" rx="0.8"/>
<rect x="856.1" y="306.7" width="5" height="8.5" rx="0.8"/>
<rect x="856.1" y="361.1" width="5" height="9.3" rx="0.8"/>
<rect x="838.4" y="376.7" width="5" height="10" rx="0.8"/>
</g>
<g fill="none" stroke="#aaa" stroke-width="0.9">
<rect x="838" y="279.3" width="9" height="2.6" rx="1.3"/>
<rect x="838" y="301.3" width="9" height="2.6" rx="1.3"/>
<rect x="853.5" y="298.3" width="9" height="2.6" rx="1.3"/>
<rect x="853.5" y="319.8" width="9" height="2.6" rx="1.3"/>
<rect x="853.5" y="354.2" width="9" height="2.6" rx="1.3"/>
<rect x="838" y="369.1" width="9" height="2.6" rx="1.3"/>
<rect x="853.5" y="375.4" width="9" height="2.6" rx="1.3"/>
<rect x="838" y="391" width="9" height="2.6" rx="1.3"/>
</g>
<rect x="847.3" y="286" width="3" height="10.8" fill="#ccc" stroke="#444" stroke-width="0.8"/>
<rect x="849.6" y="306" width="3" height="10" fill="#ccc" stroke="#444" stroke-width="0.8"/>
<rect x="846.6" y="335.4" width="2.8" height="11.8" fill="#fff"/>
<path d="M847.9 333.4 Q847.9 334.8 846 334.8 A6.6 6.5 0 0 0 846 347.8 Q847.9 347.8 847.9 349.2" fill="none" stroke="#3a3a3a" stroke-width="1.3"/>
<line x1="848.8" y1="334.8" x2="848.8" y2="347.8" stroke="#aaa" stroke-width="0.8"/>
<rect x="851.6" y="388" width="1.2" height="11" fill="#fff"/>
<path d="M852.2 385.6 Q852.2 386.9 854.2 386.9 A6.3 6.3 0 0 1 854.2 399.6 Q852.2 399.6 852.2 401" fill="none" stroke="#3a3a3a" stroke-width="1.3"/>
<!-- bottom section -->
<line x1="821" y1="410.5" x2="884" y2="410.5" stroke="#777" stroke-width="1"/>
<path d="M821 421.3 H843.5 Q845.6 421.3 845.6 419 V410.5 M883.6 421.3 H861 Q858.9 421.3 858.9 419 V410.5" fill="none" stroke="#777" stroke-width="1"/>
<path d="M845.6 412 Q846 421.5 852.3 421.5 Q858.5 421.5 858.9 412" fill="none" stroke="#999" stroke-width="0.8"/>
<circle cx="852.3" cy="415.3" r="2.6" fill="none" stroke="#555" stroke-width="1"/>
<rect x="825.6" y="207.3" width="7.8" height="3.6" rx="0.7" fill="none" stroke="#7a7a7a" stroke-width="0.9"/><rect x="826.3" y="207.9" width="2.2" height="2.4" fill="#444"/>
<rect x="825.6" y="213.0" width="7.8" height="3.6" rx="0.7" fill="none" stroke="#7a7a7a" stroke-width="0.9"/>
<rect x="825.6" y="219.3" width="7.8" height="3.6" rx="0.7" fill="none" stroke="#7a7a7a" stroke-width="0.9"/><rect x="826.3" y="219.9" width="4.6" height="2.4" fill="#444"/>
<rect x="825.6" y="225.7" width="7.8" height="3.6" rx="0.7" fill="none" stroke="#7a7a7a" stroke-width="0.9"/><rect x="826.3" y="226.3" width="2.8" height="2.4" fill="#444"/>
<rect x="825.6" y="232.1" width="7.8" height="3.6" rx="0.7" fill="none" stroke="#7a7a7a" stroke-width="0.9"/>
<rect x="825.6" y="238.5" width="7.8" height="3.6" rx="0.7" fill="none" stroke="#7a7a7a" stroke-width="0.9"/><rect x="826.3" y="239.1" width="2.2" height="2.4" fill="#444"/>
<rect x="825.6" y="244.6" width="7.8" height="3.6" rx="0.7" fill="none" stroke="#7a7a7a" stroke-width="0.9"/><rect x="826.3" y="245.2" width="3.4" height="2.4" fill="#444"/>
<rect x="825.6" y="251.0" width="7.8" height="3.6" rx="0.7" fill="none" stroke="#7a7a7a" stroke-width="0.9"/>
<rect x="825.6" y="257.6" width="7.8" height="3.6" rx="0.7" fill="none" stroke="#7a7a7a" stroke-width="0.9"/><rect x="826.3" y="258.2" width="2.8" height="2.4" fill="#444"/>
<rect x="825.6" y="264.0" width="7.8" height="3.6" rx="0.7" fill="none" stroke="#7a7a7a" stroke-width="0.9"/><rect x="826.3" y="264.6" width="4.0" height="2.4" fill="#444"/>
<rect x="825.6" y="270.3" width="7.8" height="3.6" rx="0.7" fill="none" stroke="#7a7a7a" stroke-width="0.9"/>
<rect x="825.6" y="276.6" width="7.8" height="3.6" rx="0.7" fill="none" stroke="#7a7a7a" stroke-width="0.9"/><rect x="826.3" y="277.2" width="3.4" height="2.4" fill="#444"/>
<rect x="825.6" y="283.0" width="7.8" height="3.6" rx="0.7" fill="none" stroke="#7a7a7a" stroke-width="0.9"/><rect x="826.3" y="283.6" width="4.6" height="2.4" fill="#444"/>
<rect x="825.6" y="289.3" width="7.8" height="3.6" rx="0.7" fill="none" stroke="#7a7a7a" stroke-width="0.9"/>
<rect x="825.6" y="295.7" width="7.8" height="3.6" rx="0.7" fill="none" stroke="#7a7a7a" stroke-width="0.9"/><rect x="826.3" y="296.3" width="4.0" height="2.4" fill="#444"/>
<rect x="825.6" y="301.8" width="7.8" height="3.6" rx="0.7" fill="none" stroke="#7a7a7a" stroke-width="0.9"/><rect x="826.3" y="302.4" width="2.2" height="2.4" fill="#444"/>
<rect x="825.6" y="308.1" width="7.8" height="3.6" rx="0.7" fill="none" stroke="#7a7a7a" stroke-width="0.9"/>
<rect x="825.6" y="314.4" width="7.8" height="3.6" rx="0.7" fill="none" stroke="#7a7a7a" stroke-width="0.9"/><rect x="826.3" y="315.0" width="4.6" height="2.4" fill="#444"/>
<rect x="825.6" y="320.7" width="7.8" height="3.6" rx="0.7" fill="none" stroke="#7a7a7a" stroke-width="0.9"/><rect x="826.3" y="321.3" width="2.8" height="2.4" fill="#444"/>
<rect x="825.6" y="327.1" width="7.8" height="3.6" rx="0.7" fill="none" stroke="#7a7a7a" stroke-width="0.9"/>
<rect x="825.6" y="333.5" width="7.8" height="3.6" rx="0.7" fill="none" stroke="#7a7a7a" stroke-width="0.9"/><rect x="826.3" y="334.1" width="2.2" height="2.4" fill="#444"/>
<rect x="825.6" y="339.8" width="7.8" height="3.6" rx="0.7" fill="none" stroke="#7a7a7a" stroke-width="0.9"/><rect x="826.3" y="340.4" width="3.4" height="2.4" fill="#444"/>
<rect x="825.6" y="346.1" width="7.8" height="3.6" rx="0.7" fill="none" stroke="#7a7a7a" stroke-width="0.9"/>
<rect x="825.6" y="352.5" width="7.8" height="3.6" rx="0.7" fill="none" stroke="#7a7a7a" stroke-width="0.9"/><rect x="826.3" y="353.1" width="2.8" height="2.4" fill="#444"/>
<rect x="825.6" y="358.9" width="7.8" height="3.6" rx="0.7" fill="none" stroke="#7a7a7a" stroke-width="0.9"/><rect x="826.3" y="359.5" width="4.0" height="2.4" fill="#444"/>
<rect x="825.6" y="365.1" width="7.8" height="3.6" rx="0.7" fill="none" stroke="#7a7a7a" stroke-width="0.9"/>
<rect x="825.6" y="371.4" width="7.8" height="3.6" rx="0.7" fill="none" stroke="#7a7a7a" stroke-width="0.9"/><rect x="826.3" y="372.0" width="3.4" height="2.4" fill="#444"/>
<rect x="825.6" y="377.8" width="7.8" height="3.6" rx="0.7" fill="none" stroke="#7a7a7a" stroke-width="0.9"/><rect x="826.3" y="378.4" width="4.6" height="2.4" fill="#444"/>
<rect x="825.6" y="384.0" width="7.8" height="3.6" rx="0.7" fill="none" stroke="#7a7a7a" stroke-width="0.9"/>
<rect x="825.6" y="390.4" width="7.8" height="3.6" rx="0.7" fill="none" stroke="#7a7a7a" stroke-width="0.9"/><rect x="826.3" y="391.0" width="4.0" height="2.4" fill="#444"/>
<rect x="825.6" y="396.6" width="7.8" height="3.6" rx="0.7" fill="none" stroke="#7a7a7a" stroke-width="0.9"/><rect x="826.3" y="397.2" width="2.2" height="2.4" fill="#444"/>
<rect x="871.6" y="283.0" width="7.8" height="3.6" rx="0.7" fill="none" stroke="#7a7a7a" stroke-width="0.9"/>
<rect x="871.6" y="289.3" width="7.8" height="3.6" rx="0.7" fill="none" stroke="#7a7a7a" stroke-width="0.9"/>
<rect x="871.6" y="295.7" width="7.8" height="3.6" rx="0.7" fill="none" stroke="#7a7a7a" stroke-width="0.9"/>
<rect x="871.6" y="301.8" width="7.8" height="3.6" rx="0.7" fill="none" stroke="#7a7a7a" stroke-width="0.9"/>
<rect x="871.6" y="308.1" width="7.8" height="3.6" rx="0.7" fill="none" stroke="#7a7a7a" stroke-width="0.9"/><rect x="872.3" y="308.7" width="3.4" height="2.4" fill="#444"/>
<rect x="871.6" y="314.4" width="7.8" height="3.6" rx="0.7" fill="none" stroke="#7a7a7a" stroke-width="0.9"/>
<rect x="871.6" y="320.7" width="7.8" height="3.6" rx="0.7" fill="none" stroke="#7a7a7a" stroke-width="0.9"/><rect x="872.3" y="321.3" width="2.8" height="2.4" fill="#444"/>
<rect x="871.6" y="327.1" width="7.8" height="3.6" rx="0.7" fill="none" stroke="#7a7a7a" stroke-width="0.9"/><rect x="872.3" y="327.7" width="4.0" height="2.4" fill="#444"/>
<rect x="871.6" y="333.5" width="7.8" height="3.6" rx="0.7" fill="none" stroke="#7a7a7a" stroke-width="0.9"/>
<rect x="871.6" y="339.8" width="7.8" height="3.6" rx="0.7" fill="none" stroke="#7a7a7a" stroke-width="0.9"/><rect x="872.3" y="340.4" width="3.4" height="2.4" fill="#444"/>
<rect x="871.6" y="346.1" width="7.8" height="3.6" rx="0.7" fill="none" stroke="#7a7a7a" stroke-width="0.9"/><rect x="872.3" y="346.7" width="4.6" height="2.4" fill="#444"/>
<rect x="871.6" y="352.5" width="7.8" height="3.6" rx="0.7" fill="none" stroke="#7a7a7a" stroke-width="0.9"/>
<rect x="871.6" y="358.9" width="7.8" height="3.6" rx="0.7" fill="none" stroke="#7a7a7a" stroke-width="0.9"/><rect x="872.3" y="359.5" width="4.0" height="2.4" fill="#444"/>
<rect x="871.6" y="365.1" width="7.8" height="3.6" rx="0.7" fill="none" stroke="#7a7a7a" stroke-width="0.9"/><rect x="872.3" y="365.7" width="2.2" height="2.4" fill="#444"/>
<rect x="871.6" y="371.4" width="7.8" height="3.6" rx="0.7" fill="none" stroke="#7a7a7a" stroke-width="0.9"/>
<rect x="871.6" y="377.8" width="7.8" height="3.6" rx="0.7" fill="none" stroke="#7a7a7a" stroke-width="0.9"/><rect x="872.3" y="378.4" width="4.6" height="2.4" fill="#444"/>
<rect x="871.6" y="384.0" width="7.8" height="3.6" rx="0.7" fill="none" stroke="#7a7a7a" stroke-width="0.9"/><rect x="872.3" y="384.6" width="2.8" height="2.4" fill="#444"/>
<rect x="871.6" y="390.4" width="7.8" height="3.6" rx="0.7" fill="none" stroke="#7a7a7a" stroke-width="0.9"/>
<rect x="871.6" y="396.6" width="7.8" height="3.6" rx="0.7" fill="none" stroke="#7a7a7a" stroke-width="0.9"/><rect x="872.3" y="397.2" width="2.2" height="2.4" fill="#444"/>
<!-- connectors below -->
<g fill="none" stroke="#555" stroke-width="1.1">
<path d="M827 439.3 h3 M832 439.3 h4 M839 439.3 h5 M846 439.3 h4 M855 439.3 h4 M865 439.3 h4 M871 439.3 h6"/>
<path d="M826 442 h8 M836 441.7 h6 M845 442 h7 M857 441.7 h5 M867 442 h10"/>
<path d="M829 438 v4 M838 438 v4 M844 438 v3 M853 438 v4 M862 438 v4 M870 438 v4 M877 438 v4" stroke-width="0.8"/>
</g>
<g fill="none" stroke="#555" stroke-width="1.1">
<path d="M826.7 451 V466 H850.1 V448.5 L847.5 443.2 H835"/>
<ellipse cx="827" cy="446.6" rx="3.4" ry="2.8" fill="#ddd"/>
<ellipse cx="832.8" cy="445.6" rx="3.2" ry="2.8" fill="#ddd"/>
<path d="M846 467.5 a2 2 0 0 0 -3 2.5 V486.3 H852.5"/>
</g>
<line x1="828" y1="467.5" x2="850" y2="467.5" stroke="#aaa" stroke-width="0.8"/>
<path d="M851.7 448 V489 M861.8 446 V489" fill="none" stroke="#777" stroke-width="1"/>
<line x1="854.4" y1="450" x2="854.4" y2="488" stroke="#bbb" stroke-width="0.8"/>
<path d="M851.7 443 h4 v5 M855.7 441 h6" fill="none" stroke="#777" stroke-width="0.9"/>
<path d="M851.7 489 L854 495.3 H868.2 L869.5 489 M852 489.5 L860.8 494.5 L869.5 489.5" fill="none" stroke="#888" stroke-width="0.9"/>
<line x1="851.7" y1="489" x2="869.5" y2="489" stroke="#aaa" stroke-width="0.8"/>
<rect x="862.3" y="441" width="16" height="50.6" fill="none" stroke="#777" stroke-width="1"/>
<line x1="864" y1="442" x2="864" y2="491" stroke="#555" stroke-width="1.2"/>
<g stroke="#999" stroke-width="0.8"><line x1="862.3" y1="454.3" x2="878.3" y2="454.3"/><line x1="862.3" y1="465" x2="878.3" y2="465"/></g>
<line x1="862.3" y1="466.8" x2="878.3" y2="466.8" stroke="#444" stroke-width="1.3"/>
<g stroke="#666" stroke-width="0.9"><line x1="866" y1="471.9" x2="878" y2="471.9"/><line x1="866" y1="474.2" x2="878" y2="474.2"/><line x1="866" y1="477.2" x2="878" y2="477.2"/><line x1="866" y1="480.4" x2="878" y2="480.4"/><line x1="866" y1="483" x2="878" y2="483"/></g>
<path d="M867 472.5 h9 M867 478.5 h3 M872 478.5 h5 M867 481.5 h10" stroke="#888" stroke-width="1.4" stroke-dasharray="1.5 0.8"/>
<rect x="853.6" y="495.2" width="14.5" height="11.9" fill="none" stroke="#999" stroke-width="0.9"/>
<rect x="855.6" y="507.1" width="10.5" height="13.3" fill="none" stroke="#888" stroke-width="1"/>
<line x1="860.8" y1="495.2" x2="860.8" y2="520.4" stroke="#bbb" stroke-width="0.7"/>
<path d="M854.7 520.4 V551.5 A5.5 5.5 0 0 0 865.7 551.5 V520.4" fill="none" stroke="#aaa" stroke-width="0.9"/>
<line x1="854.7" y1="541.8" x2="865.7" y2="541.8" stroke="#ccc" stroke-width="0.7"/>
</g>
</svg>
</body></html>
